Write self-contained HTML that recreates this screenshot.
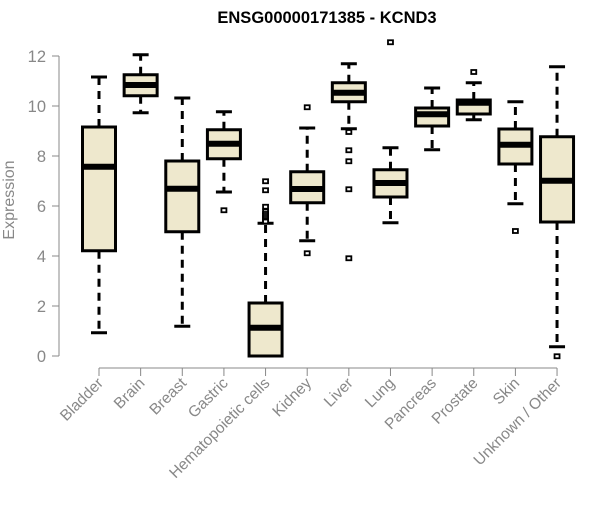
<!DOCTYPE html>
<html><head><meta charset="utf-8"><style>
body{margin:0;background:#fff}
svg{font-family:"Liberation Sans",Arial,sans-serif}
</style></head><body>
<svg id="chart" width="600" height="500" xmlns="http://www.w3.org/2000/svg">
<rect width="600" height="500" fill="#fff"/>
<text x="327" y="23" text-anchor="middle" font-weight="bold" font-size="16.5" fill="#000">ENSG00000171385 - KCND3</text>
<text transform="translate(14,200) rotate(-90)" text-anchor="middle" font-size="16" fill="#888">Expression</text>
<g id="axes"></g>
<g id="boxes"></g>
</svg>
<script>
const categories=["Bladder","Brain","Breast","Gastric","Hematopoietic cells","Kidney","Liver","Lung","Pancreas","Prostate","Skin","Unknown / Other"];
const whiskerLow=[0.93,9.73,1.19,6.56,0,4.61,9.09,5.33,8.25,9.45,6.09,0.37];
const q1=[4.21,10.41,4.97,7.89,0,6.13,10.17,6.36,9.2,9.68,7.68,5.36];
const medians=[7.57,10.84,6.69,8.49,1.13,6.68,10.53,6.92,9.67,10.13,8.45,7.01];
const q3=[9.16,11.25,7.8,9.05,2.12,7.37,10.93,7.45,9.92,10.24,9.08,8.77];
const whiskerHigh=[11.16,12.05,10.32,9.77,5.31,9.12,11.69,8.33,10.72,10.93,10.17,11.57];
const outliers=[[],[],[],[5.83],[6.99,6.63,5.97,5.78,5.68,5.6,5.52,5.44,5.38],[9.95,4.11],[8.96,8.23,7.79,6.67,3.91],[12.55],[],[11.36],[5.0],[-0.01]];
const yTicks=[0,2,4,6,8,10,12];

const NS="http://www.w3.org/2000/svg";
const y=v=>356-25*v;
const x=i=>99+i*41.64;
function mk(tag,attrs,parent){const e=document.createElementNS(NS,tag);for(const k in attrs)e.setAttribute(k,attrs[k]);parent.appendChild(e);return e;}
const ax=document.getElementById('axes'),bx=document.getElementById('boxes');
let l=mk('line',{x1:59,x2:59,y1:y(12),y2:y(0),stroke:'#888','stroke-width':1},ax);


yTicks.forEach(t=>{
  let tk=mk('line',{x1:52,x2:59,y1:y(t),y2:y(t),stroke:'#888'},ax);
  
  
  let tx=mk('text',{x:46,y:y(t)+6,'text-anchor':'end','font-size':16.5,fill:'#888'},ax);
  tx.textContent=t;
  
  
});
l=mk('line',{x1:x(0),x2:x(categories.length-1),y1:368,y2:368,stroke:'#888'},ax);


categories.forEach((c,i)=>{
  const cx=x(i);
  let tk=mk('line',{x1:cx,x2:cx,y1:368,y2:376,stroke:'#888'},ax);
  
  
  let tx=mk('text',{transform:`translate(${cx+5},${384}) rotate(-45)`,'text-anchor':'end','font-size':15.5,fill:'#888'},ax);
  tx.textContent=c;
  
  
  const g=mk('g',{},bx);
  
  
  const w=16.5;
  mk('line',{x1:cx,x2:cx,y1:y(q3[i]),y2:y(whiskerHigh[i]),stroke:'#000','stroke-width':3,'stroke-dasharray':'8,6'},g);
  mk('line',{x1:cx,x2:cx,y1:y(q1[i]),y2:y(whiskerLow[i]),stroke:'#000','stroke-width':3,'stroke-dasharray':'8,6'},g);
  mk('line',{x1:cx-8,x2:cx+8,y1:y(whiskerHigh[i]),y2:y(whiskerHigh[i]),stroke:'#000','stroke-width':3},g);
  mk('line',{x1:cx-8,x2:cx+8,y1:y(whiskerLow[i]),y2:y(whiskerLow[i]),stroke:'#000','stroke-width':3},g);
  mk('rect',{x:cx-w,y:y(q3[i]),width:2*w,height:Math.max(0,y(q1[i])-y(q3[i])),fill:'#EEE8CD',stroke:'#000','stroke-width':3},g);
  mk('line',{x1:cx-w,x2:cx+w,y1:y(medians[i]),y2:y(medians[i]),stroke:'#000','stroke-width':6},g);
  outliers[i].forEach(o=>{
    const r=mk('rect',{x:cx-2.5,y:y(o)-2,width:5,height:4,fill:'#fff',stroke:'#000','stroke-width':1.8},g);
    
    
  });
});
</script>
</body></html>
